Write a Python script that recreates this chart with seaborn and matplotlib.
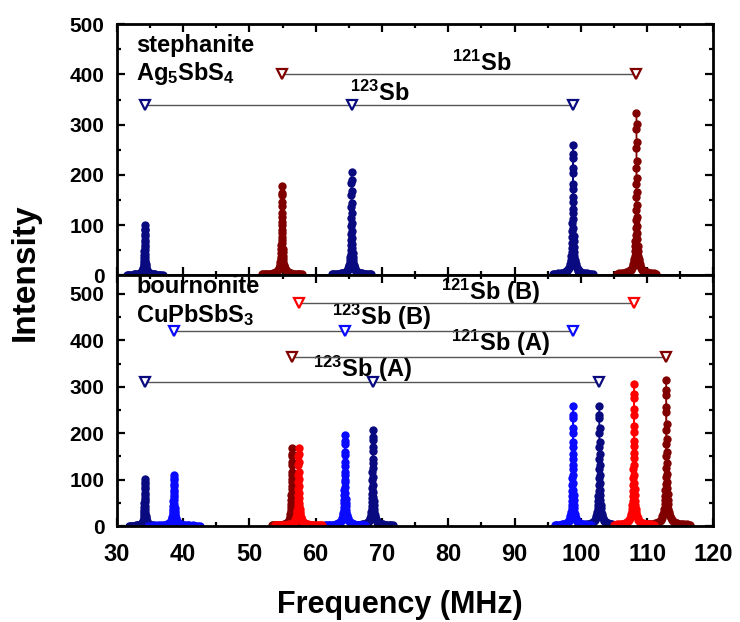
import pandas as pd
import matplotlib
matplotlib.use('Agg')
import matplotlib.pyplot as plt
from matplotlib.ticker import MultipleLocator
import seaborn as sns

# line shape of one NMR peak (offset in MHz, fraction of peak height)
profile_dx = [-3.0, -2.8, -2.6, -2.4, -2.2, -2.0, -1.8, -1.6, -1.4, -1.2, -1.0, -0.85, -0.7,
              -0.58, -0.48, -0.40, -0.33, -0.27, -0.22, -0.18, -0.15, -0.12, -0.10, -0.08,
              -0.065, -0.05, -0.04, -0.03, -0.02, -0.01, 0.0, 0.01, 0.02, 0.03, 0.04, 0.05,
              0.065, 0.08, 0.10, 0.12, 0.15, 0.18, 0.22, 0.27, 0.33, 0.40, 0.48, 0.58, 0.7,
              0.85, 1.0, 1.2, 1.4, 1.6, 1.8, 2.0, 2.2, 2.4, 2.6, 2.8, 3.0]
profile_frac = [0.01, 0.01, 0.012, 0.01, 0.014, 0.012, 0.015, 0.018, 0.02, 0.025, 0.03, 0.035,
                0.045, 0.055, 0.07, 0.085, 0.10, 0.12, 0.15, 0.18, 0.21, 0.25, 0.29, 0.34,
                0.40, 0.48, 0.56, 0.66, 0.78, 0.90, 1.0, 0.93, 0.82, 0.70, 0.60, 0.51, 0.43,
                0.36, 0.30, 0.26, 0.22, 0.18, 0.15, 0.12, 0.10, 0.085, 0.07, 0.055, 0.045,
                0.035, 0.03, 0.025, 0.02, 0.018, 0.015, 0.012, 0.014, 0.01, 0.012, 0.01, 0.01]

# stephanite Ag5SbS4
steph_123_freq = [34.2, 65.4, 98.8]
steph_123_int = [100, 205, 260]
steph_123_width = [0.9, 1.0, 1.0]
steph_121_freq = [54.9, 108.4]
steph_121_int = [177, 324]
steph_121_width = [1.0, 1.0]

# bournonite CuPbSbS3
bour_123a_freq = [34.2, 68.6, 102.8]
bour_123a_int = [102, 207, 258]
bour_123a_width = [0.8, 1.0, 1.1]
bour_123b_freq = [38.6, 64.4, 98.8]
bour_123b_int = [111, 196, 258]
bour_123b_width = [1.3, 1.0, 0.9]
bour_121a_freq = [56.4, 112.9]
bour_121a_int = [168, 314]
bour_121a_width = [1.0, 1.2]
bour_121b_freq = [57.4, 108.0]
bour_121b_int = [168, 307]
bour_121b_width = [1.2, 1.0]

# marker line heights
steph_121_level = 400
steph_123_level = 340
bour_121b_level = 480
bour_123b_level = 420
bour_121a_level = 365
bour_123a_level = 310

navy = '#0a0a80'
darkred = '#800000'
blue = '#0a0aff'
red = '#ff0000'


def peaks_table(name, freqs, ints, widths):
    rows = []
    for k, (f0, h, w) in enumerate(zip(freqs, ints, widths)):
        for dx, fr in zip(profile_dx, profile_frac):
            rows.append({'series': name, 'peak': f'{name}-{k}',
                         'freq': f0 + dx * w, 'intensity': h * fr})
    return pd.DataFrame(rows)


steph = pd.concat([peaks_table('123Sb', steph_123_freq, steph_123_int, steph_123_width),
                   peaks_table('121Sb', steph_121_freq, steph_121_int, steph_121_width)])
bour = pd.concat([peaks_table('123Sb (A)', bour_123a_freq, bour_123a_int, bour_123a_width),
                  peaks_table('123Sb (B)', bour_123b_freq, bour_123b_int, bour_123b_width),
                  peaks_table('121Sb (A)', bour_121a_freq, bour_121a_int, bour_121a_width),
                  peaks_table('121Sb (B)', bour_121b_freq, bour_121b_int, bour_121b_width)])

sns.set_style('ticks')
plt.rcParams['font.family'] = ['Liberation Sans', 'DejaVu Sans']
plt.rcParams['font.weight'] = 'bold'
plt.rcParams['text.color'] = 'black'
plt.rcParams['axes.labelcolor'] = 'black'
plt.rcParams['xtick.color'] = 'black'
plt.rcParams['ytick.color'] = 'black'
plt.rcParams['mathtext.fontset'] = 'custom'
plt.rcParams['mathtext.rm'] = 'Liberation Sans:bold'
plt.rcParams['mathtext.bf'] = 'Liberation Sans:bold'
plt.rcParams['mathtext.default'] = 'rm'

fig, (ax1, ax2) = plt.subplots(2, 1, sharex=True, figsize=(7.4, 6.22), dpi=100)
fig.subplots_adjust(left=0.158, right=0.964, top=0.961, bottom=0.154, hspace=0)

sns.lineplot(data=steph, x='freq', y='intensity', hue='series', units='peak',
             estimator=None, sort=False, palette={'123Sb': navy, '121Sb': darkred},
             marker='o', markersize=6, mew=0, lw=1, legend=False, ax=ax1)
sns.lineplot(data=bour, x='freq', y='intensity', hue='series', units='peak',
             estimator=None, sort=False,
             palette={'123Sb (A)': navy, '123Sb (B)': blue, '121Sb (A)': darkred, '121Sb (B)': red},
             marker='o', markersize=6, mew=0, lw=1, legend=False, ax=ax2)


def marker_row(ax, xs, level, color, label, label_x, label_y):
    ax.plot([min(xs), max(xs)], [level, level], color='#555555', lw=1, zorder=4)
    ax.plot(xs, [level] * len(xs), ls='none', marker='v', ms=7, mfc='white',
            mec=color, mew=1.6, zorder=5)
    ax.text(label_x, label_y, label, ha='center', va='baseline', fontsize=17,
            fontweight='bold')


marker_row(ax1, steph_121_freq, steph_121_level, darkred, r'$^{121}$Sb', 85.0, 408)
marker_row(ax1, steph_123_freq, steph_123_level, navy, r'$^{123}$Sb', 69.7, 348)
marker_row(ax2, bour_121b_freq, bour_121b_level, red, r'$^{121}$Sb (B)', 86.4, 486)
marker_row(ax2, bour_123b_freq, bour_123b_level, blue, r'$^{123}$Sb (B)', 69.9, 434)
marker_row(ax2, bour_121a_freq, bour_121a_level, darkred, r'$^{121}$Sb (A)', 87.8, 377)
marker_row(ax2, bour_123a_freq, bour_123a_level, navy, r'$^{123}$Sb (A)', 67.0, 322)

ax1.text(0.032, 0.888, 'stephanite', transform=ax1.transAxes, fontsize=17, fontweight='bold')
ax1.text(0.032, 0.776, r'Ag$_5$SbS$_4$', transform=ax1.transAxes, fontsize=17, fontweight='bold')
ax2.text(0.032, 0.928, 'bournonite', transform=ax2.transAxes, fontsize=17, fontweight='bold')
ax2.text(0.032, 0.815, r'CuPbSbS$_3$', transform=ax2.transAxes, fontsize=17, fontweight='bold')

ax1.set_xlim(30, 120)
ax1.set_ylim(0, 500)
ax2.set_ylim(0, 540)
for ax in (ax1, ax2):
    ax.set_xlabel('')
    ax.set_ylabel('')
    ax.set_yticks(range(0, 501, 100))
    ax.xaxis.set_major_locator(MultipleLocator(10))
    ax.xaxis.set_minor_locator(MultipleLocator(5))
    ax.yaxis.set_minor_locator(MultipleLocator(50))
    ax.tick_params(which='both', direction='in', top=True, right=True, width=1.6, color='black')
    ax.tick_params(which='major', length=6)
    ax.tick_params(which='minor', length=3)
    ax.tick_params(axis='y', labelsize=15, pad=9, labelcolor='black')
    ax.tick_params(axis='x', labelsize=17, pad=12, labelcolor='black')
    for s in ax.spines.values():
        s.set_linewidth(2)
        s.set_color('black')
    for lab in ax.get_xticklabels() + ax.get_yticklabels():
        lab.set_fontweight('bold')
ax1.tick_params(axis='x', labelbottom=False)

fig.text(0.034, 0.563, 'Intensity', rotation=90, ha='center', va='center', fontsize=24,
         fontweight='bold')
fig.text(0.54, 0.028, 'Frequency (MHz)', ha='center', va='center', fontsize=22,
         fontweight='bold')

fig.savefig('out.png', dpi=100)
